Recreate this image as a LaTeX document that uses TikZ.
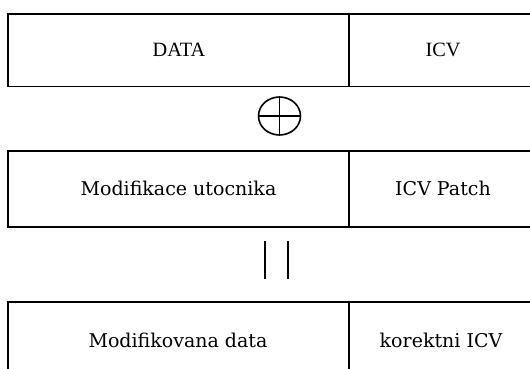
\documentclass[tikz,border=0pt]{standalone}
\usepackage{fontspec}
\usetikzlibrary{shapes.geometric}
\newfontfamily\timesfont{Liberation Serif}
\newfontfamily\dvserif{DejaVu Serif}
\begin{document}
\begin{tikzpicture}[x=1pt,y=-1pt,
  frame/.style={draw=black,line width=1.4pt},
  lbltop/.style={font=\timesfont\fontsize{20.3}{22}\selectfont},
  lbl/.style={font=\dvserif\fontsize{19}{21}\selectfont},
  bar/.style={line width=2pt}]
\useasboundingbox (0,0) rectangle (530,369);
\begin{scope}
\clip (0,0) rectangle (530,369);
% row 1: original packet
\draw[frame] (540,14) -- (8,14) -- (8,86.5) -- (540,86.5);
\draw[frame] (349,14) -- (349,86.5);
\node[lbltop] (data) at (179,50) {DATA};
\node[lbltop] (icv) at (443,50) {ICV};
% XOR symbol
\node[draw,ellipse,line width=1.6pt,minimum width=42pt,minimum height=38pt,inner sep=0pt] (xor) at (279.5,116) {};
\draw[line width=1.6pt] (xor.north) -- (xor.south);
\draw[line width=1.6pt] (xor.west) -- (xor.east);
% row 2: attacker modification
\draw[frame] (540,151) -- (8,151) -- (8,227) -- (540,227);
\draw[frame] (349,151) -- (349,227);
\node[lbl] (mod) at (178.5,188.5) {Modifikace utocnika};
\node[lbl] (patch) at (443,188.5) {ICV Patch};
% equals sign (two vertical bars)
\coordinate (b1t) at (265,241);
\coordinate (b1b) at (265,279);
\coordinate (b2t) at (288,241);
\coordinate (b2b) at (288,279);
\draw[bar] (b1t) -- (b1b);
\draw[bar] (b2t) -- (b2b);
% row 3: result
\draw[frame] (540,302) -- (8,302) -- (8,380);
\draw[frame] (349,302) -- (349,380);
\node[lbl] (res) at (178,340) {Modifikovana data};
\node[lbl] (ok) at (441,340) {korektni ICV};
\end{scope}
\end{tikzpicture}
\end{document}
